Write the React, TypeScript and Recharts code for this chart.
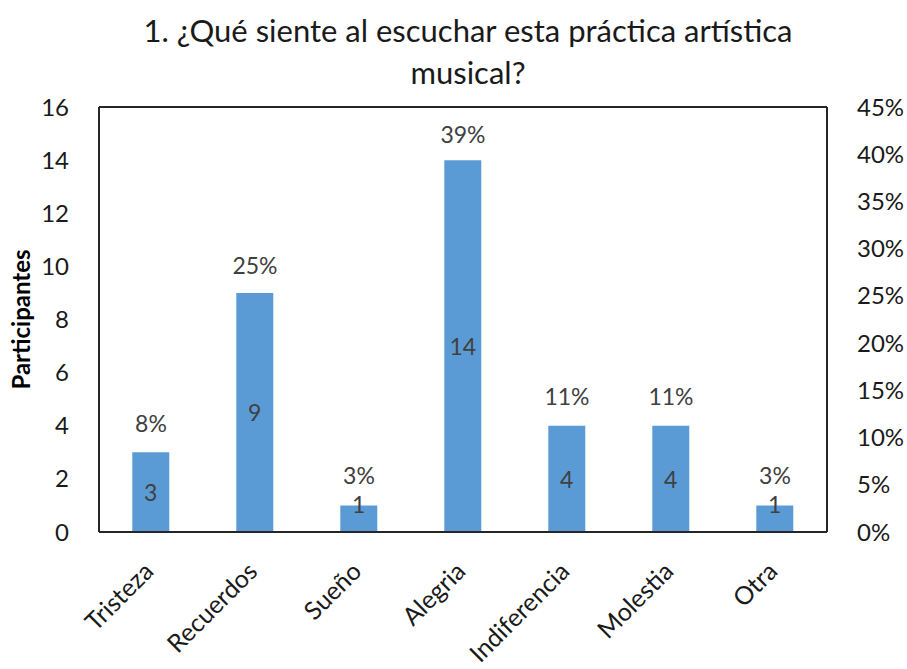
import React from 'react';
import {
  ComposedChart,
  Bar,
  Line,
  XAxis,
  YAxis,
  CartesianGrid,
  LabelList,
  ReferenceLine,
} from 'recharts';

const categories = ['Tristeza', 'Recuerdos', 'Sueño', 'Alegria', 'Indiferencia', 'Molestia', 'Otra'];
const participantes = [3, 9, 1, 14, 4, 4, 1];
const porcentajes = [0.083, 0.25, 0.028, 0.389, 0.111, 0.111, 0.028];
const leftTicks = [0, 2, 4, 6, 8, 10, 12, 14, 16];
const rightTicks = [0, 0.05, 0.1, 0.15, 0.2, 0.25, 0.3, 0.35, 0.4, 0.45];

const data = categories.map((name, i) => ({
  name,
  count: participantes[i],
  pct: porcentajes[i],
}));

const FONT = 'Lato, "Open Sans", sans-serif';
const BAR = '#5B9BD5';

const pctText = (v: number) => `${Math.round(v * 100)}%`;

// x-axis labels slanted at -45 degrees, ending under the bar
const SlantTick = (props: any) => {
  const { x, y, payload } = props;
  return (
    <g transform={`translate(${x + 4},${y + 33}) rotate(-45)`}>
      <text textAnchor="end" fill="#1a1a1a" fontSize={25} fontFamily={FONT}>
        {payload.value}
      </text>
    </g>
  );
};

// count label centred in the bar, kept off the axis for short bars
const InsideLabel = (props: any) => {
  const { x, y, width, height, value } = props;
  const cy = Math.min(y + height / 2, y + height - 28);
  return (
    <text
      x={x + width / 2}
      y={cy}
      textAnchor="middle"
      dominantBaseline="central"
      fill="#404040"
      fontSize={23}
      fontFamily={FONT}
    >
      {value}
    </text>
  );
};

export default function App() {
  return (
    <div style={{ position: 'absolute', left: 0, top: 0, width: 907, height: 669, background: '#fff' }}>
      <div
        style={{
          position: 'absolute',
          left: 0,
          top: 9,
          width: 936,
          textAlign: 'center',
          fontFamily: FONT,
          fontSize: 31,
          lineHeight: '42px',
          color: '#1a1a1a',
        }}
      >
        1. ¿Qué siente al escuchar esta práctica artística
        <br />
        musical?
      </div>
      <ComposedChart
        width={907}
        height={669}
        data={data}
        margin={{ top: 107, right: 0, bottom: 0, left: 0 }}
        barCategoryGap="32%"
      >
        <CartesianGrid vertical={false} stroke="#d9d9d9" strokeWidth={1.5} />
        <XAxis
          dataKey="name"
          height={137}
          tickLine={false}
          axisLine={{ stroke: '#262626', strokeWidth: 2 }}
          tick={<SlantTick />}
          interval={0}
        />
        <YAxis
          yAxisId="count"
          width={99}
          domain={[0, 16]}
          ticks={leftTicks}
          tickLine={false}
          axisLine={{ stroke: '#262626', strokeWidth: 2 }}
          tick={{ fill: '#1a1a1a', fontSize: 24, fontFamily: FONT }}
          tickMargin={24}
          label={{
            value: 'Participantes',
            angle: -90,
            position: 'insideLeft',
            dx: 16,
            style: { fontWeight: 700, fontSize: 24, fill: '#000', fontFamily: FONT, textAnchor: 'middle' },
          }}
        />
        <YAxis
          yAxisId="pct"
          orientation="right"
          width={80}
          domain={[0, 0.45]}
          ticks={rightTicks}
          tickFormatter={pctText}
          tickLine={false}
          axisLine={{ stroke: '#262626', strokeWidth: 2 }}
          tick={{ fill: '#1a1a1a', fontSize: 24, fontFamily: FONT, textAnchor: 'start' }}
          tickMargin={24}
        />
        <ReferenceLine yAxisId="count" y={16} stroke="#262626" strokeWidth={2} />
        <Bar yAxisId="count" dataKey="count" fill={BAR} isAnimationActive={false}>
          <LabelList dataKey="count" content={<InsideLabel />} />
        </Bar>
        <Line
          yAxisId="pct"
          dataKey="pct"
          stroke="none"
          dot={false}
          activeDot={false}
          isAnimationActive={false}
        >
          <LabelList
            dataKey="pct"
            position="top"
            offset={22}
            formatter={(v: any) => pctText(Number(v))}
            style={{ fill: '#404040', fontSize: 23, fontFamily: FONT }}
          />
        </Line>
      </ComposedChart>
    </div>
  );
}
